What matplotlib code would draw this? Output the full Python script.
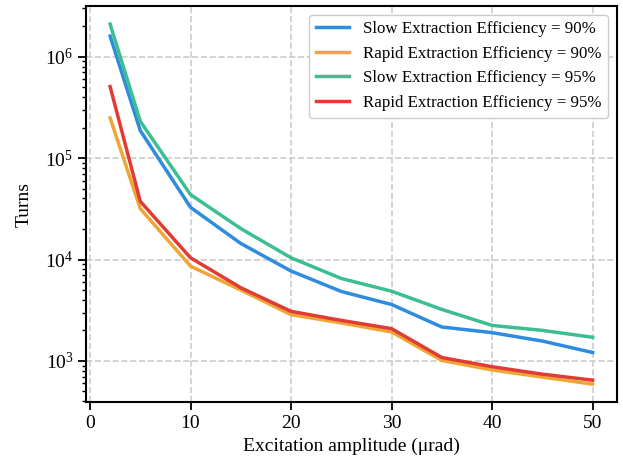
import matplotlib
matplotlib.use("Agg")
import matplotlib.pyplot as plt

amplitude = [2, 5, 10, 15, 20, 25, 30, 35, 40, 45, 50]
slow_90 = [1.6e6, 1.87e5, 3.27e4, 1.44e4, 7.7e3, 4.84e3, 3.6e3, 2.16e3, 1.9e3, 1.57e3, 1.21e3]
rapid_90 = [2.49e5, 3.18e4, 8.6e3, 5.0e3, 2.86e3, 2.37e3, 1.93e3, 1.01e3, 814, 693, 590]
slow_95 = [2.1e6, 2.31e5, 4.37e4, 2.02e4, 1.04e4, 6.5e3, 4.87e3, 3.22e3, 2.24e3, 2.0e3, 1.71e3]
rapid_95 = [5.07e5, 3.75e4, 1.04e4, 5.27e3, 3.08e3, 2.51e3, 2.08e3, 1.08e3, 876, 740, 646]

labels = ["Slow Extraction Efficiency = 90%", "Rapid Extraction Efficiency = 90%",
          "Slow Extraction Efficiency = 95%", "Rapid Extraction Efficiency = 95%"]
colors = ["#2e8ce0", "#f0a535", "#3cbf90", "#e03c35"]

plt.rcParams['font.family'] = ['Liberation Serif', 'DejaVu Serif']
plt.rcParams['mathtext.fontset'] = 'stix'

fig, ax = plt.subplots(figsize=(6.23, 4.66), dpi=100)
for y, lab, c in zip([slow_90, rapid_90, slow_95, rapid_95], labels, colors):
    ax.plot(amplitude, y, color=c, lw=2.5, label=lab)

ax.set_yscale('log')
ax.set_xlabel('Excitation amplitude (μrad)', fontsize=14)
ax.set_ylabel('Turns', fontsize=14, labelpad=9)
ax.tick_params(labelsize=14, width=1.3, length=5.5)
ax.tick_params(which='minor', width=1.0, length=3)
ax.grid(True, which='major', linestyle='--', color='#cccccc', lw=1.2)
for s in ax.spines.values():
    s.set_linewidth(1.5)
ax.legend(fontsize=12.2, loc='upper right', framealpha=1, edgecolor='#cccccc',
          handlelength=2.0)
fig.subplots_adjust(left=0.138, right=0.99, top=0.987, bottom=0.137)
fig.savefig('out.png', dpi=100)
